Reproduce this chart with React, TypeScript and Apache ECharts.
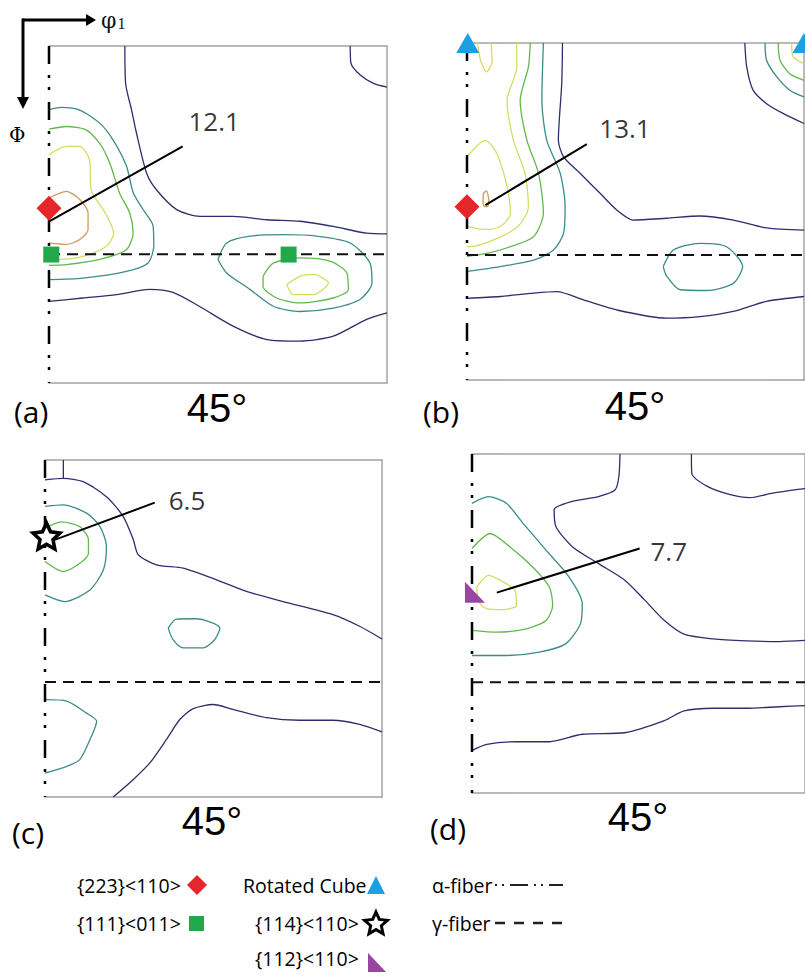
import React, { useEffect, useRef } from "react";
import * as echarts from "echarts";

type P = [number, number];

// ---------- panel (a): phi1 (x, deg) / Phi (y, deg) ----------
const aNavyUpper: P[] = [[20.2,0],[20.4,10],[22,17.1],[23.3,23.3],[26,34],[28.6,38.4],[34,43.7],[40.2,45.5],[49,45.5],[58,46.4],[66.8,46.8],[75.7,48.2],[84.6,50],[90,50.2]];
const aNavyCorner: P[] = [[80.2,0],[80.4,4.6],[82.8,7.7],[86.4,10],[90,11]];
const aNavyLower: P[] = [[0,68.2],[9,67.3],[18,66.4],[26.8,65],[33,65.8],[40,69.5],[49,74.8],[58,78.4],[66.8,78.8],[75.7,77.5],[84.6,73],[90,71.3]];
const aTealLeft: P[] = [[0,17],[3.3,16.4],[8.2,17.1],[13.5,20.6],[17,25],[20.6,32],[22.4,39.1],[25,43.6],[27.7,48],[27.9,53.5],[26.3,58],[20.6,60.2],[9,62],[0,62.4]];
const aGreenLeft: P[] = [[0,22.2],[4.6,21.5],[9.9,22.4],[13.5,26],[16.2,31.3],[18.8,39.3],[21.5,44.6],[22.4,50],[20.6,54.4],[13.5,57],[4.6,58.4],[0,58.6]];
const aYellowLeft: P[] = [[0,29],[4.6,26.8],[8.2,26.8],[10.8,30.4],[11.2,38.4],[15,44.6],[17.2,50],[15.3,53.5],[9,56.2],[2.4,57],[0,57]];
const aOrangeLeft: P[] = [[0,40.6],[4.6,38.8],[8.2,41],[10.4,44.6],[10.4,49],[8.2,51.7],[4.6,53],[0,52.6]];
const aTealRight: P[] = [[45,57],[47.3,52.6],[53.5,50.8],[62.4,50.4],[71.3,50.8],[80.2,52.6],[85.5,58],[86,63.3],[82.8,67.7],[75.7,70],[66.8,70.9],[59.7,69.5],[53.5,65],[47.3,60.6]];
const aGreenRight: P[] = [[57,61.5],[59.7,58],[66.8,56.6],[75,57.5],[79.3,60.6],[79.7,65],[75.7,67.3],[66.8,68.6],[60.6,67.3],[57,64.2]];
const aYellowRight: P[] = [[63.3,63.7],[66.8,61.5],[70.4,61],[74.4,63.3],[70.4,66.4],[65,66.4]];

// ---------- panel (b) ----------
const bNavyUpper: P[] = [[25.5,0],[25.3,10.8],[24.4,26],[25.8,30.4],[30.2,34.8],[35.6,40.2],[40,44.6],[44.4,47.3],[53.3,46.8],[62.2,46.2],[71.1,47.3],[80,49.4],[90,50]];
const bNavyCorner: P[] = [[74.2,0],[74.7,6.4],[76.4,12.6],[80,16.2],[84.4,18.8],[90,21.5]];
const bTealCorner: P[] = [[79.6,0],[80,4.6],[82.7,9],[86.2,12.6],[90,14.4]];
const bGreenCorner: P[] = [[83.1,0],[83.6,4.6],[86.2,8.2],[90,10]];
const bYellowCorner: P[] = [[86.7,0],[87.1,3.7],[90,5.5]];
const bTealLeft: P[] = [[20.4,0],[20,15.3],[21.3,26],[24.9,34.8],[26.2,43.7],[25.8,50.8],[23.1,55.3],[17.8,58],[8.9,59.7],[0,61]];
const bGreenLeft: P[] = [[16.9,0],[16.4,6.4],[14.2,15.3],[16,26],[19.1,34.8],[20.4,45.5],[17.8,51.7],[11.6,54.4],[5.3,56.2],[0,57]];
const bYellowOuter: P[] = [[13.3,0],[13.3,6.4],[10.7,15.3],[12.4,26],[15.5,34.8],[16.4,43.7],[13.8,48.8],[7.1,52.6],[0.9,54.4],[0,54.4]];
const bYellowInner: P[] = [[0,30.4],[4.9,26],[8,29.6],[10.7,38.4],[11.6,45.5],[8.9,49],[4.4,49.8],[0,49]];
const bYellowTop: P[] = [[2.8,0],[3.6,4.6],[5.2,7.7],[6.7,5],[6.4,0]];
const bOrangePeak: P[] = [[4.3,42.8],[4.4,40.2],[5.2,39.5],[5.8,42],[5.5,43.7],[4.7,43.7]];
const bTealEllipse: P[] = [[52.4,59.7],[55.1,55.3],[62.2,53.5],[69.3,54.4],[73.6,59.7],[71.1,64.2],[64,66.1],[56.9,65.9],[53.3,62.2]];
const bNavyLower: P[] = [[0,68.2],[8.9,67.7],[17.8,66.8],[24,66.4],[31.1,68.6],[40,71.3],[53.3,73.5],[62.2,73.1],[71.1,71.7],[80,69],[90,67.7]];

// ---------- panel (c) ----------
const cNavyTick: P[] = [[4.9,0],[4.9,4.9]];
const cNavyUpper: P[] = [[0,5.3],[4.9,4.9],[10.2,5.8],[16.4,9.8],[20.9,15.1],[23.6,21.3],[24.9,25.3],[29.8,28],[36.9,28.9],[45.8,32],[53.8,35.1],[63.6,37.8],[76.9,41.3],[84,44.4],[90,47.8]];
const cTealLeft: P[] = [[0,12.4],[4.9,12],[11.1,14.2],[14.7,17.8],[16.4,23.1],[15.6,29.3],[12,34.7],[5.3,37.8],[0,36]];
const cGreenLeft: P[] = [[0,18.2],[4.4,16.5],[9.3,17.8],[11.6,21.3],[11.6,24.9],[9.3,27.6],[4.9,29.8],[0,27.1]];
const cTealIsland: P[] = [[32.9,44.9],[35.1,42.5],[40.4,42.4],[46.7,44.9],[45.3,48],[42.2,50.2],[36.9,50.2],[34.2,48]];
const cTealLower: P[] = [[0,64],[5.8,64.4],[11.1,67.6],[13.8,69.8],[12,74.7],[9.3,80],[5.8,81.8],[0,83.6]];
const cNavyLower: P[] = [[18.2,90],[23.6,85.3],[28,80.9],[32.4,74.7],[36,69.3],[39.6,66.4],[44.9,65.3],[50.2,66.6],[59.1,68.8],[68,69.5],[76.9,69.5],[84,70.6],[90,72.6]];

// ---------- panel (d) ----------
const dNavyUpper: P[] = [[40,0],[39.7,5.9],[38.7,9.5],[34.2,11.3],[27.1,12.6],[22.2,14.8],[22.7,19.3],[27.1,24.6],[34.2,29.1],[41.3,33.5],[46.7,38.8],[52,44.2],[57.3,47.8],[65.3,49.1],[74.2,49.6],[83.1,49.8],[90,49.5]];
const dNavyCorner: P[] = [[59.3,0],[59.4,5.1],[63.6,8.6],[69.8,10.8],[75.1,11.6],[81.3,10.4],[88.9,9.3],[90,9.2]];
const dTealLeft: P[] = [[0,13.1],[4.4,11.3],[9.3,13.1],[13.8,18.4],[20,25.5],[26.2,32.6],[29.8,39.7],[29.3,45.1],[25.3,50.4],[18.2,52.6],[9.3,53.5],[0,53.5]];
const dGreenLeft: P[] = [[0,25.1],[4.9,21.1],[10.2,24.6],[16.4,30],[20.9,35.3],[21.8,40.2],[20,44.2],[14.7,46.4],[6.7,47.3],[0,46.8]];
const dYellowPeak: P[] = [[1.3,35.3],[4.4,32.2],[7.6,33.5],[11.6,36.2],[12,40.2],[8.4,41.3],[4,41.1],[1.8,39.1]];
const dNavyLower: P[] = [[0,78.7],[4,77.1],[12,76.4],[20.9,76.4],[29.8,74.4],[41.3,74],[52,70.8],[57.3,68.2],[65.3,67.5],[74.2,67.5],[83.1,67.1],[90,66.8]];

// ---------- fibres, peaks, markers ----------
const alphaPhi1 = 0;
const gammaPhi: number[] = [55.6, 56.6, 59.3, 60.6];
const peakLabels: string[] = ["12.1", "13.1", "6.5", "7.7"];
const peakLabelPos: P[] = [[37, 20], [35.2, 22.7], [32.9, 10.7], [48.1, 25.8]];
const leaderLines: P[][] = [
  [[0.2, 46.8], [35.6, 26.8]],
  [[4.9, 43.3], [32, 27]],
  [[1.3, 21.8], [29.3, 11.4]],
  [[6.7, 36.8], [45.3, 25.1]],
];
const diamond223: P[][] = [[[0, 43.3]], [[0, 43.7]], [], []];
const square111: P[][] = [[[0.6, 55.7], [63.8, 55.7]], [], [], []];
const rotatedCube: P[][] = [[], [[0.2, 0], [90, 0]], [], []];
const star114: P[][] = [[], [], [[0.4, 20.3]], []];
const tri112: P[][] = [[], [], [], [[0.8, 36.7]]];
const panelLetters: string[] = ["(a)", "(b)", "(c)", "(d)"];
const sectionLabel = "45°";

const NAVY = "#2f2d6c";
const TEAL = "#3b8b87";
const GREEN = "#62b84c";
const YELLOW = "#d6dc62";
const ORANGE = "#cf9c58";

type C = { d: P[]; c: string; closed?: boolean };
const contours: C[][] = [
  [
    { d: aNavyUpper, c: NAVY }, { d: aNavyCorner, c: NAVY }, { d: aNavyLower, c: NAVY },
    { d: aTealLeft, c: TEAL }, { d: aGreenLeft, c: GREEN }, { d: aYellowLeft, c: YELLOW },
    { d: aOrangeLeft, c: ORANGE }, { d: aTealRight, c: TEAL, closed: true },
    { d: aGreenRight, c: GREEN, closed: true }, { d: aYellowRight, c: YELLOW, closed: true },
  ],
  [
    { d: bNavyUpper, c: NAVY }, { d: bNavyCorner, c: NAVY }, { d: bTealCorner, c: TEAL },
    { d: bGreenCorner, c: GREEN }, { d: bYellowCorner, c: YELLOW }, { d: bTealLeft, c: TEAL },
    { d: bGreenLeft, c: GREEN }, { d: bYellowOuter, c: YELLOW }, { d: bYellowInner, c: YELLOW },
    { d: bYellowTop, c: YELLOW }, { d: bOrangePeak, c: ORANGE, closed: true },
    { d: bTealEllipse, c: TEAL, closed: true }, { d: bNavyLower, c: NAVY },
  ],
  [
    { d: cNavyTick, c: NAVY }, { d: cNavyUpper, c: NAVY }, { d: cTealLeft, c: TEAL },
    { d: cGreenLeft, c: GREEN }, { d: cTealIsland, c: TEAL, closed: true },
    { d: cTealLower, c: TEAL }, { d: cNavyLower, c: NAVY },
  ],
  [
    { d: dNavyUpper, c: NAVY }, { d: dNavyCorner, c: NAVY }, { d: dTealLeft, c: TEAL },
    { d: dGreenLeft, c: GREEN }, { d: dYellowPeak, c: YELLOW, closed: true }, { d: dNavyLower, c: NAVY },
  ],
];

// layout (pixels)
const grids = [
  { left: 49, top: 46, width: 338, height: 337 },
  { left: 467, top: 43, width: 337, height: 337 },
  { left: 45, top: 460, width: 337, height: 337 },
  { left: 472, top: 454, width: 338, height: 339 },
];

function starPath(R: number, r: number): string {
  let s = "";
  for (let i = 0; i < 10; i++) {
    const rad = i % 2 === 0 ? R : r;
    const a = -Math.PI / 2 + (i * Math.PI) / 5;
    s += (i === 0 ? "M" : "L") + (rad * Math.cos(a)).toFixed(2) + "," + (rad * Math.sin(a)).toFixed(2);
  }
  return s + "Z";
}
function starPoints(cx: number, cy: number, R: number, r: number): number[][] {
  const pts: number[][] = [];
  for (let i = 0; i < 10; i++) {
    const rad = i % 2 === 0 ? R : r;
    const a = -Math.PI / 2 + (i * Math.PI) / 5;
    pts.push([cx + rad * Math.cos(a), cy + rad * Math.sin(a)]);
  }
  return pts;
}

const FONT = "'Open Sans', 'Noto Sans', sans-serif";

function buildOption() {
  const xAxis: any[] = [];
  const yAxis: any[] = [];
  const series: any[] = [];
  const border = { show: true, onZero: false, lineStyle: { color: "#a3a3a3", width: 1.5 } };
  grids.forEach((g, i) => {
    const base = { type: "value", min: 0, max: 90, gridIndex: i, axisTick: { show: false }, axisLabel: { show: false }, splitLine: { show: false }, axisLine: border };
    xAxis.push({ ...base, position: "bottom" });
    xAxis.push({ ...base, position: "top" });
    yAxis.push({ ...base, position: "right", inverse: true });
    const xi = i * 2;
    contours[i].forEach((ct) => {
      series.push({
        type: "line", xAxisIndex: xi, yAxisIndex: i, symbol: "none", smooth: 0.25,
        data: ct.closed ? [...ct.d, ct.d[0]] : ct.d,
        lineStyle: { color: ct.c, width: 1.3 }, silent: true, z: 2,
      });
    });
    // alpha fibre
    series.push({ type: "line", xAxisIndex: xi, yAxisIndex: i, symbol: "none", data: [[alphaPhi1, 0], [alphaPhi1, 90]], lineStyle: { color: "#000", width: 2.5, type: [18, 11, 3, 9, 3, 12] }, z: 3, silent: true });
    // gamma fibre
    series.push({ type: "line", xAxisIndex: xi, yAxisIndex: i, symbol: "none", data: [[0, gammaPhi[i]], [90, gammaPhi[i]]], lineStyle: { color: "#111", width: 2, type: [11, 7] }, z: 3, silent: true });
    // leader line
    series.push({ type: "line", xAxisIndex: xi, yAxisIndex: i, symbol: "none", data: leaderLines[i], lineStyle: { color: "#000", width: 2 }, z: 4, silent: true });
    // peak value label
    series.push({
      type: "scatter", xAxisIndex: xi, yAxisIndex: i, symbolSize: 1, itemStyle: { color: "rgba(0,0,0,0)" }, clip: false, z: 6,
      data: [{ value: peakLabelPos[i], name: peakLabels[i] }],
      label: { show: true, position: "right", distance: 0, formatter: "{b}", fontSize: 26, fontFamily: FONT, color: "#000" },
      silent: true,
    });
    const mk = (data: P[], symbol: string, size: any, itemStyle: any) =>
      data.length && series.push({ type: "scatter", xAxisIndex: xi, yAxisIndex: i, data, symbol, symbolSize: size, itemStyle: { opacity: 1, ...itemStyle }, clip: false, z: 7, silent: true });
    mk(diamond223[i], "diamond", [25, 25], { color: "#e5262b" });
    mk(square111[i], "rect", [16, 16], { color: "#22a84b" });
    mk(rotatedCube[i], "triangle", [23, 20], { color: "#1ba1e2" });
    mk(star114[i], "path://" + starPath(10, 4.8), [27, 26], { color: "#fff", borderColor: "#000", borderWidth: 3.5 });
    mk(tri112[i], "path://M0,0L0,20L20,20Z", [20, 21], { color: "#9a44a6" });
  });

  const txt = (x: number, y: number, text: string, font: string, align = "left") => ({
    type: "text", x, y, z: 10, silent: true,
    style: { text, font, fill: "#000", textAlign: align, textVerticalAlign: "middle" },
  });
  const letterPos = [[14, 411], [423, 411], [12, 832], [430, 828]];
  const degPos = [[217, 408], [635, 406], [212, 821], [638, 817]];
  const graphic: any[] = [];
  panelLetters.forEach((l, i) => {
    graphic.push(txt(letterPos[i][0], letterPos[i][1], l, `30px ${FONT}`));
    graphic.push(txt(degPos[i][0], degPos[i][1], sectionLabel, "40px 'Liberation Sans', Arial, sans-serif", "center"));
  });
  // orientation arrows
  graphic.push({ type: "line", shape: { x1: 23, y1: 20, x2: 88, y2: 20 }, style: { stroke: "#000", lineWidth: 3 } });
  graphic.push({ type: "polygon", shape: { points: [[96, 20], [86, 14], [86, 26]] }, style: { fill: "#000" } });
  graphic.push({ type: "line", shape: { x1: 23, y1: 18.5, x2: 23, y2: 99 }, style: { stroke: "#000", lineWidth: 3 } });
  graphic.push({ type: "polygon", shape: { points: [[23, 109], [17, 97], [29, 97]] }, style: { fill: "#000" } });
  graphic.push({
    type: "text", x: 101, y: 20, style: {
      text: "{a|φ}{b|1}", textVerticalAlign: "middle",
      rich: { a: { font: "22px 'DejaVu Serif', serif", fill: "#111" }, b: { font: "16px 'Liberation Serif', serif", fill: "#111", padding: [6, 0, 0, 1] } },
    },
  });
  graphic.push(txt(9, 135, "Φ", "20px 'DejaVu Serif', serif"));

  // legend
  const LF = `19.5px ${FONT}`;
  graphic.push(txt(77, 885, "{223}<110>", LF));
  graphic.push(txt(77, 923, "{111}<011>", LF));
  graphic.push(txt(243, 885, "Rotated Cube", LF));
  graphic.push(txt(255, 923, "{114}<110>", LF));
  graphic.push(txt(255, 958, "{112}<110>", LF));
  graphic.push(txt(432, 885, "α-fiber", LF));
  graphic.push(txt(432, 923, "γ-fiber", LF));
  graphic.push({ type: "polygon", shape: { points: [[197, 875], [207, 885], [197, 895], [187, 885]] }, style: { fill: "#e5262b" } });
  graphic.push({ type: "rect", shape: { x: 189, y: 916, width: 15, height: 15 }, style: { fill: "#22a84b" } });
  graphic.push({ type: "polygon", shape: { points: [[376, 876], [385, 894], [367, 894]] }, style: { fill: "#1ba1e2" } });
  graphic.push({ type: "polygon", shape: { points: starPoints(376, 924, 12, 5.6) }, style: { fill: "#fff", stroke: "#000", lineWidth: 3 } });
  graphic.push({ type: "polygon", shape: { points: [[368, 953], [368, 972], [386, 972]] }, style: { fill: "#9a44a6" } });
  graphic.push({ type: "line", shape: { x1: 495, y1: 885, x2: 563, y2: 885 }, style: { stroke: "#222", lineWidth: 2, lineDash: [2, 5, 2, 6, 18, 6] } });
  graphic.push({ type: "line", shape: { x1: 495, y1: 923, x2: 563, y2: 923 }, style: { stroke: "#222", lineWidth: 2.5, lineDash: [10, 9] } });

  return {
    animation: false,
    backgroundColor: "#fff",
    grid: grids.map((g) => ({ ...g, containLabel: false })),
    xAxis, yAxis, series, graphic,
  };
}

export default function App() {
  const ref = useRef<HTMLDivElement>(null);
  useEffect(() => {
    if (!ref.current) return;
    const chart = echarts.init(ref.current, undefined, { renderer: "svg" });
    chart.setOption(buildOption() as any);
    return () => chart.dispose();
  }, []);
  return <div ref={ref} style={{ position: "absolute", left: 0, top: 0, width: 805, height: 977 }} />;
}
